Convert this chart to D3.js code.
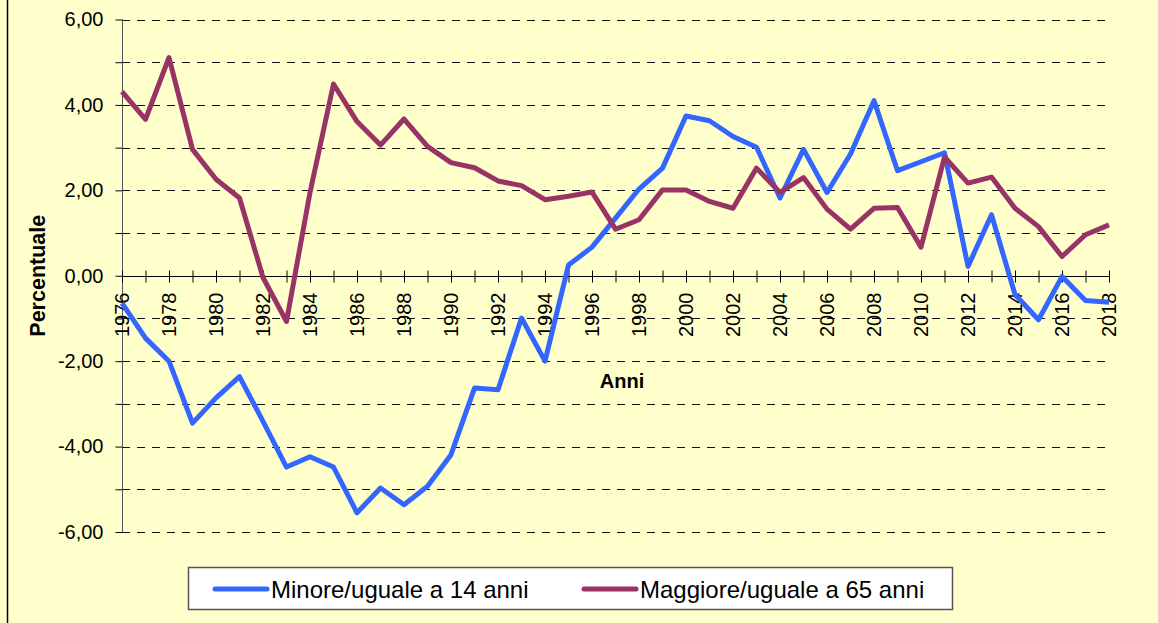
<!DOCTYPE html>
<html>
<head>
<meta charset="utf-8">
<script src="https://cdn.jsdelivr.net/npm/d3@7"></script>
<style>
  html, body { margin: 0; padding: 0; background: #FFFFCC; }
  svg { display: block; font-family: "Liberation Sans", Arial, sans-serif; }
</style>
</head>
<body>
<div id="chart"></div>
<script>
  var years = d3.range(1976, 2019);

  var minore = [-0.64, -1.46, -2.00, -3.45, -2.86, -2.36, -3.41, -4.48, -4.24, -4.48,
                -5.55, -4.97, -5.36, -4.93, -4.19, -2.63, -2.67, -0.99, -2.00, 0.25,
                 0.67, 1.35, 2.03, 2.52, 3.74, 3.63, 3.26, 3.01, 1.82, 2.96,
                 1.95, 2.85, 4.10, 2.46, 2.67, 2.88, 0.22, 1.43, -0.44, -1.03,
                -0.02, -0.58, -0.62];

  var maggiore = [4.31, 3.66, 5.11, 2.96, 2.26, 1.82, -0.04, -1.07, 1.95, 4.49,
                  3.61, 3.06, 3.67, 3.03, 2.65, 2.53, 2.22, 2.11, 1.78, 1.86,
                  1.96, 1.09, 1.31, 2.01, 2.01, 1.74, 1.58, 2.52, 1.95, 2.30,
                  1.56, 1.09, 1.58, 1.60, 0.67, 2.78, 2.17, 2.31, 1.58, 1.15,
                  0.45, 0.96, 1.19];

  var seriesNames = ["Minore/uguale a 14 anni", "Maggiore/uguale a 65 anni"];
  var seriesColors = ["#3366FF", "#993366"];

  var yTicks = d3.range(-6, 7, 1);
  var yLabels = [-6, -4, -2, 0, 2, 4, 6];

(function() {
  var series = [
    {name: seriesNames[0], color: seriesColors[0], values: minore},
    {name: seriesNames[1], color: seriesColors[1], values: maggiore}
  ];

  var W = 1158, H = 623;
  var plotLeft = 122, plotRight = 1109, plotTop = 19.5, plotBottom = 532;

  var fmt = function(v) { return d3.format(".2f")(v).replace(".", ",").replace("−", "-"); };

  var svg = d3.select("#chart").append("svg")
      .attr("width", W)
      .attr("height", H);

  svg.append("rect")
      .attr("width", W)
      .attr("height", H)
      .attr("fill", "#FFFFCC");

  // left border of the chart frame
  svg.append("line")
      .attr("x1", 7.5).attr("x2", 7.5)
      .attr("y1", 0).attr("y2", H)
      .attr("stroke", "#000")
      .attr("stroke-width", 1.5);

  var x = d3.scaleLinear()
      .domain([1976, 2018])
      .range([plotLeft, plotRight]);

  var y = d3.scaleLinear()
      .domain([-6, 6])
      .range([plotBottom, plotTop]);

  // dashed gridlines
  svg.append("g")
      .attr("class", "grid")
    .selectAll("line")
    .data(yTicks.filter(d => d !== 0))
    .enter().append("line")
      .attr("x1", plotLeft)
      .attr("x2", plotRight)
      .attr("y1", d => Math.round(y(d)) + 0.5)
      .attr("y2", d => Math.round(y(d)) + 0.5)
      .attr("stroke", "#111")
      .attr("stroke-width", 1)
      .attr("stroke-dasharray", "8,7");

  // y axis
  var yAxis = d3.axisLeft(y)
      .tickValues(yTicks)
      .tickSize(7)
      .tickPadding(12)
      .tickFormat(d => yLabels.includes(d) ? fmt(d) : "");

  var yg = svg.append("g")
      .attr("transform", "translate(" + (plotLeft + 0.5) + ",0)")
      .call(yAxis);

  yg.select(".domain").attr("stroke", "#555").attr("d", "M0," + plotTop + "V" + plotBottom);
  yg.selectAll(".tick line").attr("stroke", "#000");
  yg.selectAll(".tick text")
      .attr("fill", "#000")
      .style("font-size", "20px")
      .style("font-family", "\"Liberation Sans\", Arial, sans-serif");

  // x axis on zero line
  var xAxis = d3.axisBottom(x)
      .tickValues(years)
      .tickSize(6)
      .tickFormat("");

  var xg = svg.append("g")
      .attr("transform", "translate(0," + (Math.round(y(0)) + 0.5) + ")")
      .call(xAxis);

  xg.select(".domain").attr("stroke", "#000").attr("d", "M" + plotLeft + ",0H" + plotRight);
  xg.selectAll(".tick line").attr("y1", -6).attr("stroke", "#000");

  xg.selectAll(".yearlabel")
      .data(years.filter(d => d % 2 === 0))
    .enter().append("text")
      .attr("class", "yearlabel")
      .attr("transform", d => "translate(" + x(d) + ",16) rotate(-90)")
      .attr("text-anchor", "end")
      .attr("dy", "0.35em")
      .attr("fill", "#000")
      .style("font-size", "20px")
      .text(d => d);

  // axis titles
  svg.append("text")
      .attr("transform", "translate(37," + y(0) + ") rotate(-90)")
      .attr("text-anchor", "middle")
      .attr("dy", "0.35em")
      .style("font-size", "21.5px")
      .style("font-weight", "bold")
      .text("Percentuale");

  svg.append("text")
      .attr("x", 622)
      .attr("y", 388)
      .attr("text-anchor", "middle")
      .style("font-size", "20px")
      .style("font-weight", "bold")
      .text("Anni");

  // lines
  var line = d3.line()
      .x((d, i) => x(years[i]))
      .y(d => y(d));

  svg.append("g")
    .selectAll("path")
    .data(series)
    .enter().append("path")
      .attr("d", d => line(d.values))
      .attr("fill", "none")
      .attr("stroke", d => d.color)
      .attr("stroke-width", 5)
      .attr("stroke-linejoin", "round");

  // legend
  var legend = svg.append("g").attr("class", "legend");

  legend.append("rect")
      .attr("x", 188.5)
      .attr("y", 567.5)
      .attr("width", 764)
      .attr("height", 42)
      .attr("fill", "#fff")
      .attr("stroke", "#555")
      .attr("stroke-width", 1.5);

  var legendX = [215, 584];

  var items = legend.selectAll(".item")
      .data(series)
    .enter().append("g")
      .attr("class", "item")
      .attr("transform", (d, i) => "translate(" + legendX[i] + ",589)");

  items.append("line")
      .attr("x1", 0).attr("x2", 52)
      .attr("stroke", d => d.color)
      .attr("stroke-width", 5)
      .attr("stroke-linecap", "round");

  items.append("text")
      .attr("x", 56)
      .attr("dy", "0.36em")
      .style("font-size", "24px")
      .attr("fill", "#000")
      .text(d => d.name);
})();
</script>
</body>
</html>
